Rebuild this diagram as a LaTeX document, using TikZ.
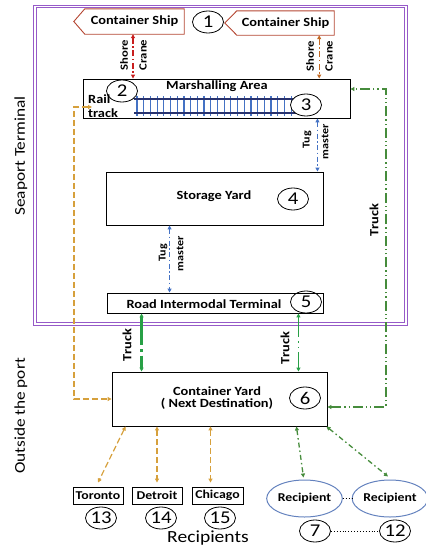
\documentclass[tikz,border=0pt]{standalone}
\usepackage{fontspec}
\setmainfont{Carlito}[FakeStretch=1.15]
\usetikzlibrary{arrows.meta,shapes.geometric}
\definecolor{framec}{RGB}{150,90,200}
\definecolor{shipc}{RGB}{180,70,50}
\definecolor{cranel}{RGB}{200,30,30}
\definecolor{craner}{RGB}{195,105,35}
\definecolor{tugc}{RGB}{68,114,196}
\definecolor{railc}{RGB}{40,50,110}
\definecolor{tiec}{RGB}{68,114,196}
\definecolor{orng}{RGB}{214,160,60}
\definecolor{grn}{RGB}{70,140,60}
\definecolor{grnb}{RGB}{40,160,70}
\definecolor{recc}{RGB}{100,130,190}
\begin{document}
\begin{tikzpicture}[x=1pt,y=-1pt,
  box/.style={draw,line width=0.9pt,inner sep=0pt},
  lbl/.style={inner sep=0pt,font=\fontsize{12.5}{13}\selectfont\bfseries},
  small/.style={inner sep=0pt,rotate=90,font=\fontsize{11}{12}\selectfont\bfseries},
  tuglbl/.style={inner sep=0pt,rotate=90,font=\fontsize{10.5}{11}\selectfont\bfseries},
  side/.style={inner sep=0pt,rotate=90,font=\fontsize{15}{16}\selectfont},
  num/.style={draw,ellipse,line width=0.8pt,minimum width=31pt,minimum height=22pt,inner sep=0pt,font=\fontsize{18}{18}\selectfont},
  city/.style={draw,line width=0.9pt,inner sep=1.2pt,minimum height=17pt,font=\fontsize{12}{13}\selectfont\bfseries},
  recip/.style={draw=recc,ellipse,line width=1pt,minimum width=62pt,minimum height=37pt,inner sep=0pt,font=\fontsize{12}{13}\selectfont\bfseries},
  dtip/.style={{Triangle[length=4pt,width=4pt]}-{Triangle[length=4pt,width=4pt]}},
  shipline/.style={draw=shipc,line width=0.9pt},
  craneline/.style={dtip,line width=1.2pt,dash pattern=on 6pt off 2.5pt on 1.5pt off 2.5pt},
  tugline/.style={dtip,draw=tugc,line width=1.2pt,dash pattern=on 5pt off 2.5pt on 1.5pt off 2.5pt},
  orline/.style={dtip,draw=orng,line width=1.2pt,dash pattern=on 6pt off 3pt},
  grline/.style={dtip,draw=grn,line width=1.3pt,dash pattern=on 10pt off 3pt on 1.3pt off 3pt on 1.3pt off 3pt},
  grrec/.style={dtip,draw=grn,line width=1.3pt,dash pattern=on 5pt off 3pt on 1.5pt off 3pt},
]
\useasboundingbox (0,0) rectangle (426,550);
% frame
\draw[framec,line width=0.8pt] (33.5,5) rectangle (407.5,325);
\draw[framec,line width=0.8pt] (36.5,7.5) rectangle (404.5,322.5);
% side labels
\node[side] (seaport) at (21,156) {Seaport Terminal};
\node[side] (outside) at (21,416) {Outside the port};
\node[inner sep=0pt,font=\fontsize{17}{18}\selectfont] (recips) at (208,538) {Recipients};
% ships
\node[lbl,minimum width=99pt,minimum height=25pt] (ship1) at (134.5,21.5) {Container Ship};
\draw[shipline] (ship1.north west) -- (ship1.north east) -- (ship1.south east) -- (ship1.south west) -- ([xshift=-11pt]ship1.west) -- cycle;
\node[lbl,minimum width=97pt,minimum height=24pt] (ship2) at (285.5,23) {Container Ship};
\draw[shipline] (ship2.north west) -- (ship2.north east) -- (ship2.south east) -- (ship2.south west) -- ([xshift=-12pt]ship2.west) -- cycle;
\node[num] (n1) at (208,22) {1};
% marshalling area
\node[box,minimum width=267pt,minimum height=39pt] (marsh) at (216.5,98.5) {};
% rail track
\foreach \i in {0,...,23} {
  \draw[tiec,line width=1.2pt] (137+6.7*\i,96) -- (137+6.7*\i,116);
}
\draw[railc,line width=1.3pt] (134,99) -- (300,99);
\draw[railc,line width=1.3pt] (134,113) -- (300,113);
\node[num,fill=white] (n2) at (122,91) {2};
\node[num,fill=white] (n3) at (306,105) {3};
\node[lbl] (marshl) at (217,86) {Marshalling Area};
\node[lbl,anchor=west] (rail) at (88,99) {Rail};
\node[lbl,anchor=west] (track) at (88,113) {track};
% storage yard
\node[box,minimum width=217pt,minimum height=53pt] (sy) at (214.5,198.5) {};
\node[lbl] (syl) at (214,196) {Storage Yard};
\node[num] (n4) at (293,199) {4};
% road intermodal terminal
\node[box,minimum width=216pt,minimum height=20pt] (rit) at (215,303) {};
\node[lbl] (ritl) at (204,304) {Road Intermodal Terminal};
\node[num] (n5) at (306,302) {5};
% container yard
\node[box,minimum width=215pt,minimum height=54pt] (cy) at (219.5,399) {};
\node[lbl,align=center] (cyl) at (217,398.5) {Container Yard\\[-1pt]( Next Destination)};
\node[num] (n6) at (305,398) {6};
% cities
\node[city,minimum width=50pt] (tor) at (98,495.5) {Toronto};
\node[city,minimum width=50pt] (det) at (157,495.5) {Detroit};
\node[city,minimum width=51pt] (chi) at (217.5,495.5) {Chicago};
\node[num] (n13) at (101,518) {13};
\node[num] (n14) at (161,518) {14};
\node[num] (n15) at (220,518) {15};
% recipients
\node[recip] (rec1) at (304.5,498.5) {Recipient};
\node[recip,minimum width=60pt] (rec2) at (390,498.5) {Recipient};
\node[num] (n7) at (315,531) {7};
\node[num] (n12) at (395,531) {12};
\draw[line width=0.9pt,dotted] (rec1.east) -- (rec2.west);
\draw[line width=0.9pt,dotted] (n7.east) -- (n12.west);
% shore cranes
\draw[craneline,draw=cranel] ([xshift=-1.5pt]ship1.south) -- ([xshift=-1.5pt]ship1.south |- marsh.north);
\node[small] (shore1) at (124,55) {Shore};
\node[small] (crane1) at (143,55) {Crane};
\draw[craneline,draw=craner] ([xshift=-15pt]ship2.south east) -- ([xshift=-15pt]ship2.south east |- marsh.north);
\node[small] (shore2) at (310,56) {Shore};
\node[small] (crane2) at (329,56) {Crane};
% tug masters
\draw[tugline] ([xshift=-33pt]marsh.south east) -- ([xshift=-33pt]marsh.south east |- sy.north);
\node[tuglbl] (tug1) at (307,140) {Tug};
\node[tuglbl] (mast1) at (325,142) {master};
\draw[tugline] ([xshift=64pt]sy.south west) -- ([xshift=64pt]sy.south west |- rit.north);
\node[tuglbl] (tug2) at (163,253) {Tug};
\node[tuglbl] (mast2) at (180,254) {master};
% trucks RIT - CY
\draw[dtip,draw=grnb,line width=2.6pt,dash pattern=on 28pt off 4pt on 2.5pt off 4pt] ([xshift=35pt]rit.south west) -- ([xshift=35pt]rit.south west |- cy.north);
\node[lbl,rotate=90] (truck1) at (127,345) {Truck};
\draw[dtip,draw=grnb,line width=1.6pt,dash pattern=on 20pt off 4pt on 1.6pt off 4pt on 1.6pt off 4pt] ([xshift=-25pt]rit.south east) -- ([xshift=-25pt]rit.south east |- cy.north);
\node[lbl,rotate=90] (truck2) at (285,348) {Truck};
% green truck to marshalling
\coordinate (tra) at (386,407);
\coordinate (trb) at (386,89);
\draw[grline] ([yshift=-8pt]cy.east) -- (tra) -- (trb) -- (marsh.east |- trb);
\node[lbl,rotate=90] (truck3) at (374,220) {Truck};
% orange rail link
\coordinate (ora) at (74,107);
\coordinate (orb) at (74,399);
\draw[orline] (92,107) -- (ora) -- (orb) -- (cy.west);
% orange to cities
\draw[orline] ([xshift=14pt]cy.south west) -- ([yshift=4pt]tor.north);
\draw[orline] (cy.south west -| det.north) -- ([yshift=4pt]det.north);
\draw[orline] ([xshift=-7pt]cy.south west -| chi.north) -- ([xshift=-7pt,yshift=4pt]chi.north);
% green to recipients
\draw[grrec] ([xshift=-31pt]cy.south east) -- ([xshift=-1pt,yshift=2pt]rec1.north);
\draw[grrec] ([xshift=-1pt]cy.south east) -- ([xshift=-2pt,yshift=3pt]rec2.north);
\end{tikzpicture}
\end{document}
